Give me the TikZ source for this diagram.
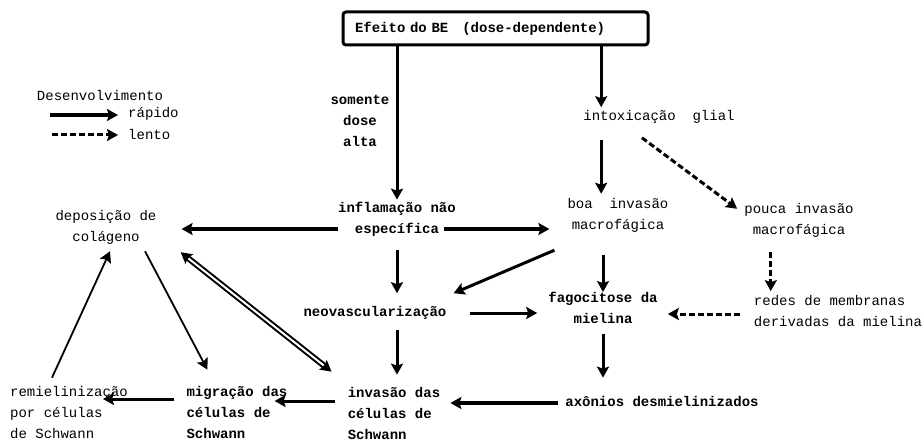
\documentclass[tikz,border=0pt]{standalone}
\usepackage{fontspec}
\setmonofont{Liberation Mono}
\usetikzlibrary{arrows.meta}
\begin{document}
\begin{tikzpicture}[x=1pt,y=-1pt,>={Stealth[length=11pt,width=12pt,inset=2pt]},
  lbl/.style={inner sep=0pt,align=center,font=\ttfamily\fontsize{14}{21}\selectfont},
  lblb/.style={lbl,font=\ttfamily\bfseries\fontsize{14}{21}\selectfont},
  fast/.style={->,line width=3pt},
  slow/.style={->,line width=3pt,dash pattern=on 6pt off 3pt},
  fine/.style={->,line width=1.8pt},
  dbl/.style={<->,line width=6pt},
  dblin/.style={white,line width=2pt,shorten <=10pt,shorten >=10pt}]
 \useasboundingbox (0,0) rectangle (924,441);
 % legend
 \node[lbl] (desenv) at (100,95) {Desenvolvimento};
 \node[lbl,anchor=west] (lrap) at (128,114) {rápido};
 \node[lbl,anchor=west] (llen) at (128,134) {lento};
 \coordinate (rap0) at (50,115);
 \coordinate (len0) at (52,135);
 \draw[fast,line width=4pt,shorten >=10pt] (rap0) -- (rap0 -| lrap.west);
 \draw[slow,shorten >=10pt] (len0) -- (len0 -| llen.west);
 % nodes
 \node[draw,line width=3pt,rounded corners=3pt,lblb,inner xsep=12pt,text width=281pt,align=left,minimum height=33pt] (efeito) at (495.5,28.5) {Efeito do BE\ \ \ (dose-dependente)};
 \node[lblb] (somente) at (360,121) {somente\\dose\\alta};
 \node[lblb] (inflam) at (397,219) {inflamação não\\específica};
 \node[lbl] (intox) at (659,117) {intoxicação\ \ glial};
 \node[lbl] (boa) at (618,215) {boa\ \ invasão\\macrofágica};
 \node[lbl] (pouca) at (799,220) {pouca invasão\\macrofágica};
 \node[lbl,align=left] (redes) at (838,311) {redes de membranas\\derivadas da mielina};
 \node[lbl] (deposicao) at (106,227) {deposição de\\colágeno};
 \node[lblb] (neovasc) at (375,313) {neovascularização};
 \node[lblb] (fagocit) at (603,308) {fagocitose da\\mielina};
 \node[lblb] (axonios) at (662,401) {axônios desmielinizados};
 \node[lblb,align=left] (invasao) at (394,413) {invasão das\\células de\\Schwann};
 \node[lblb,align=left] (migracao) at (237,412) {migração das\\células de\\Schwann};
 \node[lbl,align=left] (remiel) at (69,413) {remielinização\\por células\\de Schwann};
 % arrows
 \draw[fast] (efeito.south -| inflam.north) -- ([yshift=2pt]inflam.north);
 \draw[fast] ([xshift=18pt]intox.north west |- efeito.south) -- ([xshift=18pt,yshift=3pt]intox.north west);
 \draw[fast,shorten <=16pt] ([xshift=18pt]intox.south west) -- ([xshift=18pt,yshift=4pt]intox.south west |- boa.north);
 \draw[slow] ([xshift=-17pt,yshift=-14pt]intox.south) -- ([xshift=-7pt,yshift=-6pt]pouca.north west);
 \draw[slow,shorten <=15pt] ([xshift=17pt]redes.north west |- pouca.south) -- ([xshift=17pt,yshift=4pt]redes.north west);
 \draw[slow,shorten <=14pt,shorten >=10pt] ([yshift=-3pt]redes.west) -- ([yshift=-3pt]redes.west -| fagocit.east);
 \draw[fast,shorten <=23pt] (fagocit.north |- boa.south) -- (fagocit.north);
 \draw[fast,shorten <=10pt,shorten >=18pt] (fagocit.south) -- (fagocit.south |- axonios.north);
 \draw[fast,line width=4pt,shorten <=7pt,shorten >=10pt] ([yshift=-2pt]axonios.west) -- ([yshift=-2pt]axonios.west -| invasao.east);
 \draw[fast,line width=4pt,shorten >=25pt] ([yshift=-10pt]inflam.west) -- ([yshift=-10pt]inflam.west -| deposicao.east);
 \draw[fast,line width=4pt] ([xshift=-12pt,yshift=-10pt]inflam.east) -- ([xshift=-18pt,yshift=-10pt]inflam.east -| boa.west);
 \draw[fast,shorten <=14pt,shorten >=13pt] (inflam.south) -- (inflam.south |- neovasc.north);
 \draw[fast] ([xshift=-13pt,yshift=-18pt]boa.south west) -- ([xshift=7pt,yshift=13pt]neovasc.north east);
 \draw[fast,shorten <=23pt,shorten >=11pt] (neovasc.east) -- (neovasc.east -| fagocit.west);
 \draw[fast,shorten <=10pt,shorten >=12pt] (inflam.south |- neovasc.south) -- (inflam.south |- invasao.north);
 \draw[fast] ([xshift=-13pt,yshift=12pt]invasao.west) -- ([xshift=-13pt,yshift=12pt]invasao.west -| migracao.east);
 \draw[fast] ([xshift=-12pt,yshift=13pt]migracao.west) -- ([xshift=-25pt,yshift=13pt]migracao.west -| remiel.east);
 \draw[fine] ([xshift=42pt,yshift=9pt]remiel.north west) -- ([xshift=4pt,yshift=-7pt]deposicao.south);
 \draw[fine] ([xshift=39pt,yshift=-7pt]deposicao.south) -- ([xshift=21pt,yshift=16pt]migracao.north west);
 % double connector
 \draw[dbl] ([xshift=24pt,yshift=-8pt]deposicao.south east) -- ([xshift=-16pt,yshift=15pt]invasao.north west);
 \draw[dblin] ([xshift=24pt,yshift=-8pt]deposicao.south east) -- ([xshift=-16pt,yshift=15pt]invasao.north west);
\end{tikzpicture}
\end{document}
